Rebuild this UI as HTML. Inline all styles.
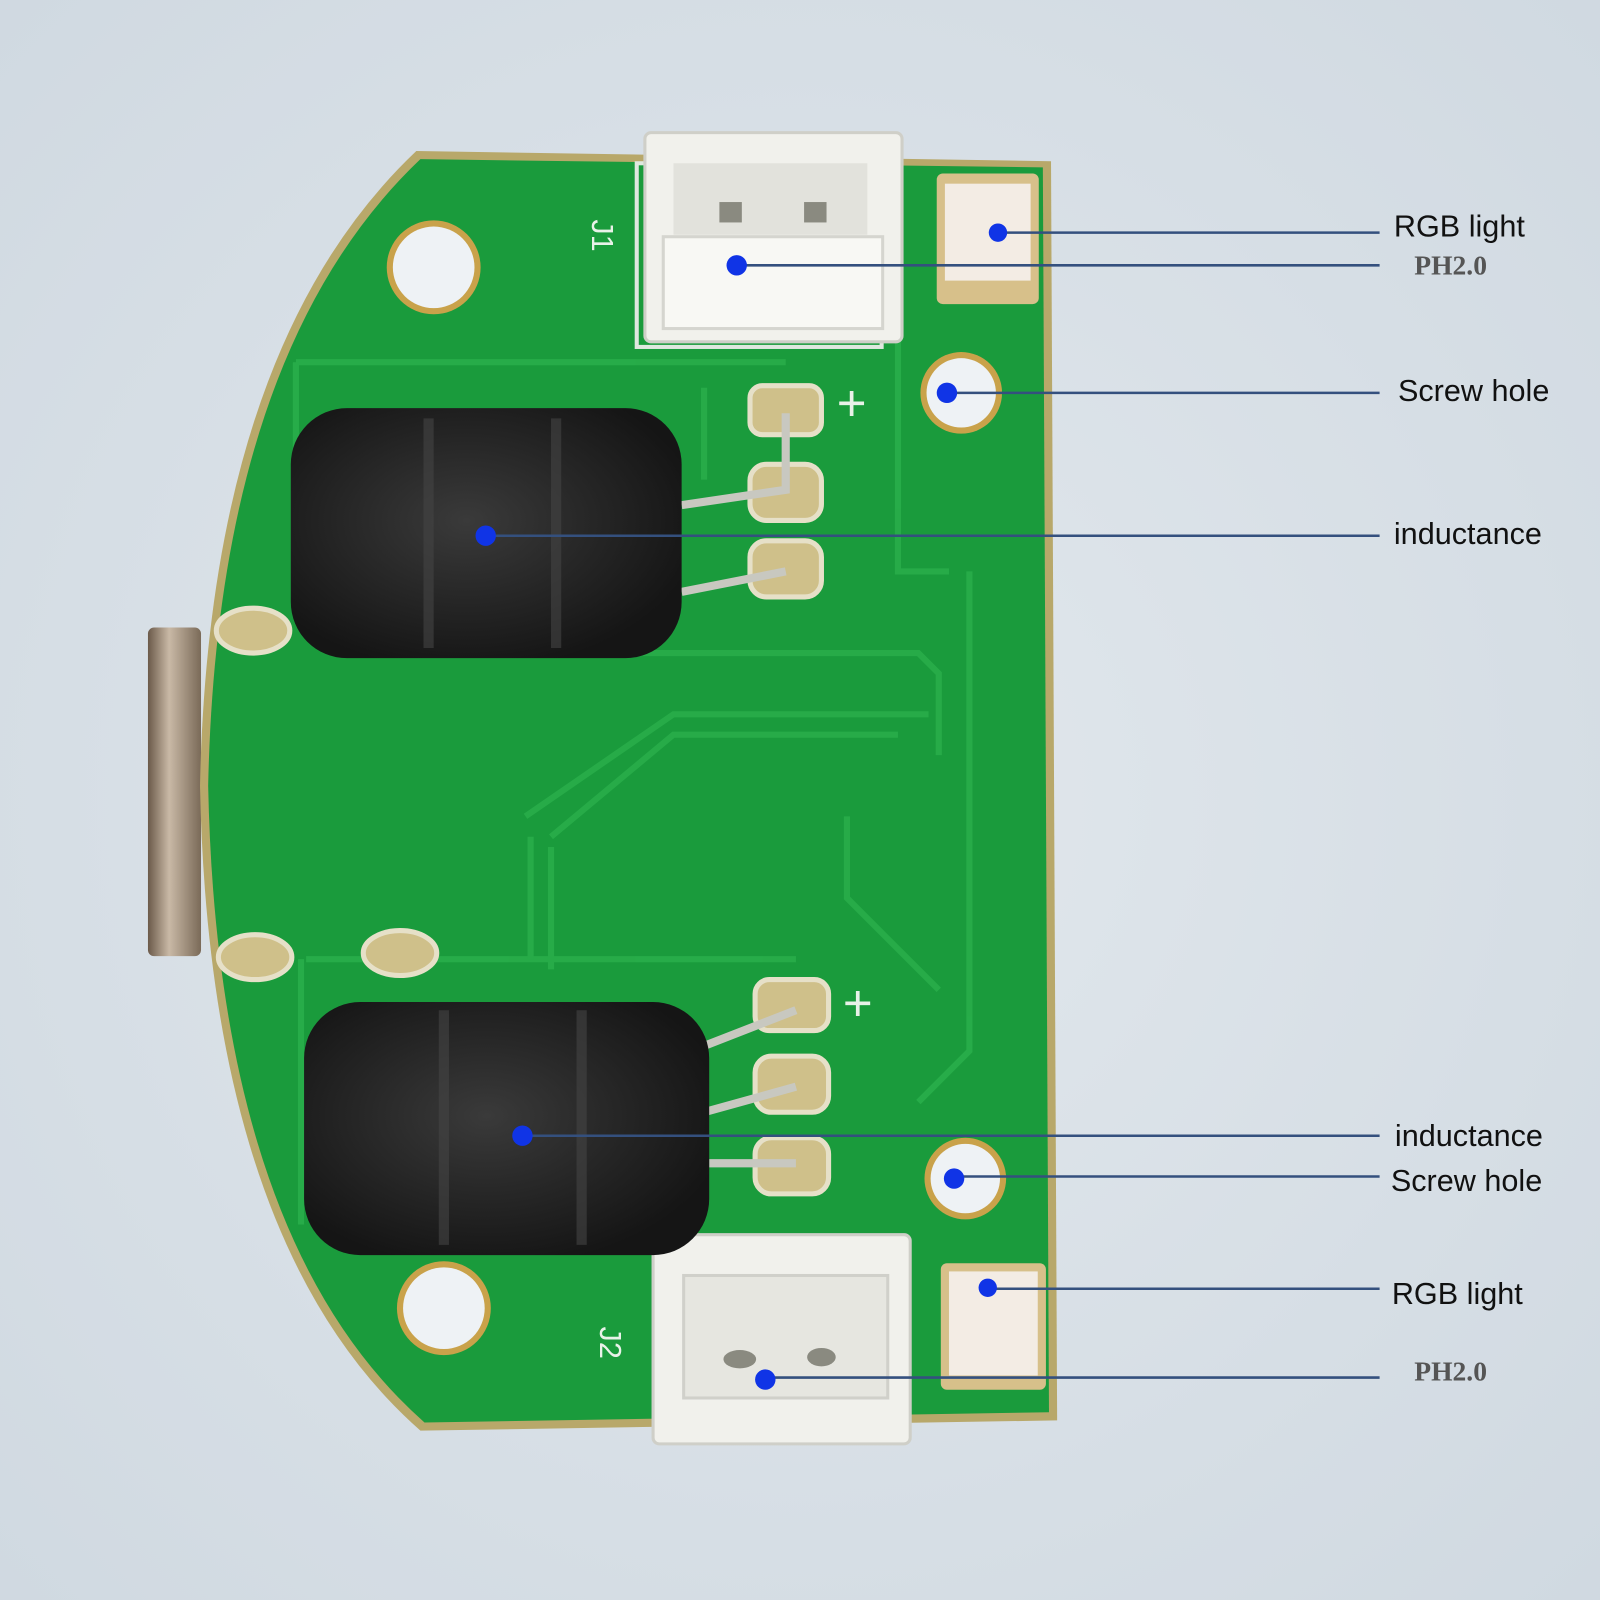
<!DOCTYPE html>
<html><head><meta charset="utf-8"><style>
html,body{margin:0;padding:0;background:#d6dee5;}
svg{display:block}
</style></head><body>
<svg width="1600" height="1600" viewBox="0 0 1568 1568" xmlns="http://www.w3.org/2000/svg">
<defs>
<radialGradient id="bg" cx="50%" cy="50%" r="70%"><stop offset="0" stop-color="#e2e8ed"/><stop offset="1" stop-color="#d0d9e1"/></radialGradient>
<linearGradient id="usb" x1="0" x2="1"><stop offset="0" stop-color="#6b5a4a"/><stop offset="0.4" stop-color="#c9b9a6"/><stop offset="1" stop-color="#7a6a58"/></linearGradient>
<radialGradient id="ind" cx="45%" cy="45%" r="60%"><stop offset="0" stop-color="#3a3a3a"/><stop offset="1" stop-color="#151515"/></radialGradient>
</defs>
<rect width="1568" height="1568" fill="url(#bg)"/>
<!-- USB -->
<rect x="145" y="615" width="52" height="322" rx="6" fill="url(#usb)"/>
<!-- PCB -->
<path d="M408,148 L1030,158 L1036,1392 L412,1402 Q205,1220 196,770 Q205,340 408,148 Z" fill="#b8a86a"/>
<path d="M412,156 L1022,164 L1028,1384 L416,1394 Q213,1215 204,770 Q213,345 412,156 Z" fill="#1a9b3c"/>
<!-- traces -->
<g fill="none" stroke="#2bb04c" stroke-width="6" opacity="0.8">
<path d="M290,355 L770,355 M290,355 L290,600"/>
<path d="M300,940 L780,940 M295,940 L295,1200"/>
<path d="M600,640 L900,640 L920,660 L920,740"/>
<path d="M515,800 L660,700 L910,700"/>
<path d="M540,820 L660,720 L880,720"/>
<path d="M520,820 L520,940 M540,830 L540,950"/>
<path d="M830,800 L830,880 L920,970"/>
<path d="M950,560 L950,1030 L900,1080"/>
<path d="M690,380 L690,470 M880,300 L880,560 L930,560"/>
</g>
<!-- holes -->
<g fill="#c9a24a"><circle cx="425" cy="262" r="46"/><circle cx="942" cy="385" r="40"/><circle cx="946" cy="1155" r="40"/><circle cx="435" cy="1282" r="46"/></g>
<g fill="#eef2f5"><circle cx="425" cy="262" r="40"/><circle cx="942" cy="385" r="34"/><circle cx="946" cy="1155" r="34"/><circle cx="435" cy="1282" r="40"/></g>
<!-- silk text -->
<text x="580" y="215" font-family="Liberation Sans,sans-serif" font-size="30" fill="#e8f2e8" transform="rotate(90 580 215)">J1</text>
<text x="588" y="1300" font-family="Liberation Sans,sans-serif" font-size="30" fill="#e8f2e8" transform="rotate(90 588 1300)">J2</text>
<text x="820" y="412" font-family="Liberation Sans,sans-serif" font-size="50" fill="#e8f2e8">+</text>
<text x="826" y="1000" font-family="Liberation Sans,sans-serif" font-size="50" fill="#e8f2e8">+</text>
<!-- connectors -->
<rect x="624" y="160" width="240" height="180" fill="none" stroke="#dfe8df" stroke-width="4"/>
<rect x="632" y="130" width="252" height="205" rx="6" fill="#f1f1ec" stroke="#cfcfc8" stroke-width="3"/>
<rect x="660" y="160" width="190" height="70" fill="#e2e2dc"/>
<rect x="705" y="198" width="22" height="20" fill="#8a8a80"/><rect x="788" y="198" width="22" height="20" fill="#8a8a80"/>
<rect x="650" y="232" width="215" height="90" fill="#f8f8f4" stroke="#d5d5cf" stroke-width="3"/>
<rect x="640" y="1210" width="252" height="205" rx="6" fill="#f1f1ec" stroke="#cfcfc8" stroke-width="3"/>
<rect x="670" y="1250" width="200" height="120" fill="#e6e6e0" stroke="#d0d0ca" stroke-width="3"/>
<ellipse cx="725" cy="1332" rx="16" ry="9" fill="#8a8a80"/><ellipse cx="805" cy="1330" rx="14" ry="9" fill="#8a8a80"/>
<!-- RGB -->
<rect x="918" y="170" width="100" height="128" rx="6" fill="#d7c08a"/><rect x="926" y="180" width="84" height="95" fill="#f3ece4"/>
<rect x="922" y="1238" width="103" height="124" rx="6" fill="#d7c08a"/><rect x="930" y="1246" width="87" height="102" fill="#f3ece4"/>
<!-- pads -->
<g fill="#cfc08a" stroke="#e6e0c8" stroke-width="5">
<ellipse cx="248" cy="618" rx="36" ry="22"/><ellipse cx="250" cy="938" rx="36" ry="22"/><ellipse cx="392" cy="934" rx="36" ry="22"/>
<rect x="735" y="378" width="70" height="48" rx="12"/><rect x="735" y="455" width="70" height="55" rx="16"/><rect x="735" y="530" width="70" height="55" rx="16"/>
<rect x="740" y="960" width="72" height="50" rx="14"/><rect x="740" y="1035" width="72" height="55" rx="16"/><rect x="740" y="1115" width="72" height="55" rx="16"/>
</g>
<g stroke="#c8c8c0" stroke-width="8" fill="none">
<path d="M668,495 L770,480 L770,405 M668,580 L770,560 M690,1025 L780,990 M690,1090 L780,1065 M695,1140 L780,1140"/>
</g>
<!-- inductors -->
<rect x="285" y="400" width="383" height="245" rx="55" fill="url(#ind)"/>
<rect x="298" y="982" width="397" height="248" rx="55" fill="url(#ind)"/>
<g stroke="#444" stroke-width="10" fill="none" opacity="0.6"><path d="M420,410 L420,635 M545,410 L545,635 M435,990 L435,1220 M570,990 L570,1220"/></g>
<!-- leader lines -->
<g stroke="#34507e" stroke-width="2.5">
<line x1="978" y1="228" x2="1352" y2="228"/>
<line x1="722" y1="260" x2="1352" y2="260"/>
<line x1="928" y1="385" x2="1352" y2="385"/>
<line x1="476" y1="525" x2="1352" y2="525"/>
<line x1="512" y1="1113" x2="1352" y2="1113"/>
<line x1="935" y1="1153" x2="1352" y2="1153"/>
<line x1="968" y1="1263" x2="1352" y2="1263"/>
<line x1="750" y1="1350" x2="1352" y2="1350"/>
</g>
<g fill="#1034e6">
<circle cx="978" cy="228" r="9"/><circle cx="722" cy="260" r="10"/><circle cx="928" cy="385" r="10"/><circle cx="476" cy="525" r="10"/>
<circle cx="512" cy="1113" r="10"/><circle cx="935" cy="1155" r="10"/><circle cx="968" cy="1262" r="9"/><circle cx="750" cy="1352" r="10"/>
</g>
<g font-family="Liberation Sans,sans-serif" font-size="30" fill="#111">
<text x="1366" y="232">RGB light</text>
<text x="1370" y="393">Screw hole</text>
<text x="1366" y="533">inductance</text>
<text x="1367" y="1123">inductance</text>
<text x="1363" y="1167">Screw hole</text>
<text x="1364" y="1278">RGB light</text>
</g>
<g font-family="Liberation Serif,serif" font-size="27" font-weight="bold" fill="#555">
<text x="1386" y="269">PH2.0</text>
<text x="1386" y="1353">PH2.0</text>
</g>
</svg>
</body></html>
